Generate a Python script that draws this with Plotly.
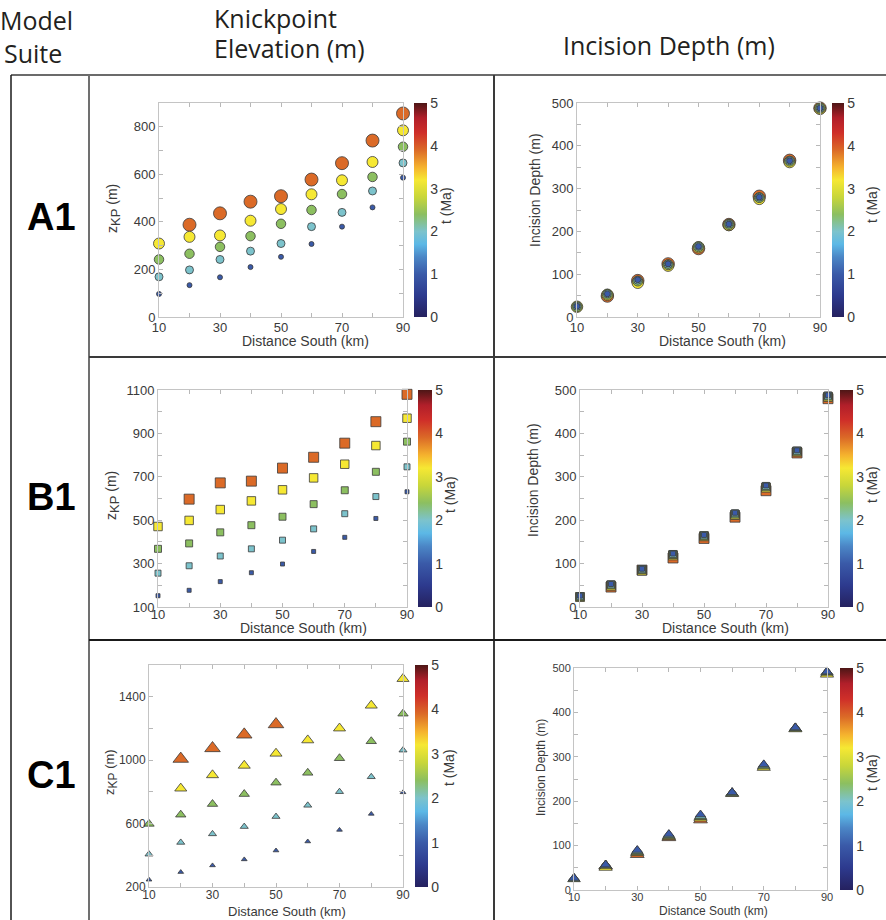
import plotly.graph_objects as go

W, H = 886, 920

# ---------------- data ----------------
dist = [10, 20, 30, 40, 50, 60, 70, 80, 90]          # Distance South (km)
dist_labelled = [10, 30, 50, 70, 90]
dist_minor = [20, 40, 60, 80]
t_series = [1.0, 2.0, 2.4, 3.2, 3.9]                  # t (Ma) of the five series

# A1 knickpoint elevation (m)
a1_z_t1 = [97, 134, 167, 210, 253, 307, 380, 461, 586]
a1_z_t2 = [169, 198, 242, 277, 309, 380, 440, 530, 648]
a1_z_t3 = [242, 266, 295, 340, 392, 450, 517, 589, 716]
a1_z_t4 = [309, 337, 343, 405, 454, 516, 575, 652, 785]
a1_z_t5 = [None, 388, 436, 485, 508, 578, 647, 742, 856]
# A1 incision depth (m)
a1_d_t1 = [25, 54, 87, 124, 165, 217, 280, 365, 488]
a1_d_t2 = [25, 54, 86, 123, 165, 217, 280, 365, 488]
a1_d_t3 = [24, 53, 84, 122, 164, 216, 279, 364, 488]
a1_d_t4 = [24, 52, 80, 120, 163, 215, 276, 362, 487]
a1_d_t5 = [None, 49, 85, 124, 160, 216, 282, 366, 488]

# B1 knickpoint elevation (m)
b1_z_t1 = [152, 177, 217, 258, 298, 356, 421, 508, 631]
b1_z_t2 = [256, 290, 335, 368, 408, 460, 530, 609, 746]
b1_z_t3 = [368, 393, 444, 477, 516, 574, 638, 723, 862]
b1_z_t4 = [471, 499, 549, 589, 640, 695, 758, 844, 970]
b1_z_t5 = [None, 597, 672, 680, 740, 790, 855, 954, 1080]
# B1 incision depth (m)
b1_d_t1 = [26, 53, 88, 123, 166, 217, 280, 361, 488]
b1_d_t2 = [25, 52, 87, 122, 165, 216, 279, 360, 487]
b1_d_t3 = [24, 51, 86, 121, 164, 214, 277, 359, 486]
b1_d_t4 = [23, 49, 84, 119, 163, 212, 275, 358, 484]
b1_d_t5 = [None, 46, 85, 113, 158, 207, 268, 355, 480]

# C1 knickpoint elevation (m)
c1_z_t1 = [246, 294, 336, 374, 430, 487, 560, 661, 797]
c1_z_t2 = [407, 481, 535, 581, 644, 715, 801, 895, 1063]
c1_z_t3 = [598, 656, 723, 786, 858, 920, 1012, 1119, 1293]
c1_z_t4 = [None, 822, 906, 966, 1042, 1126, 1201, 1345, 1513]
c1_z_t5 = [None, 1008, 1075, 1161, 1226, None, None, None, None]
# C1 incision depth (m)
c1_d_t1 = [27, 57, 90, 126, 170, 220, 283, 366, 492]
c1_d_t2 = [26, 56, 88, 124, 167, 219, 281, 365, 491]
c1_d_t3 = [25, 55, 86, 122, 165, 218, 279, 364, 490]
c1_d_t4 = [None, 51, 84, 120, 162, 217, 276, 363, 486]
c1_d_t5 = [None, 54, 80, 118, 158, None, None, None, None]

row_labels = ["A1", "B1", "C1"]
header_texts = ["Model", "Suite", "Knickpoint", "Elevation (m)", "Incision Depth (m)"]
depth_title = "Incision Depth (m)"
dist_title = "Distance South (km)"
cbar_title = "t (Ma)"

colorscale = [
    [0.00, "#25215f"], [0.10, "#2d3a8e"], [0.20, "#3a5aa8"], [0.28, "#4b86c6"],
    [0.34, "#5cb8e6"], [0.40, "#7cc3cc"], [0.48, "#8cbf60"], [0.56, "#c8d63a"],
    [0.64, "#f6e833"], [0.70, "#f5b22e"], [0.78, "#db6a27"], [0.86, "#cf2f29"],
    [0.93, "#b11f2a"], [1.00, "#4d1616"],
]

def px(x):
    return x / W

def py(y):
    return 1 - y / H

def zkp(fs):
    return f'z<sub><span style="font-size:{fs}px">KP</span></sub> (m)'

# panel geometry (pixels): plot box, colorbar box, title positions
panels = [
    dict(series=[a1_z_t1, a1_z_t2, a1_z_t3, a1_z_t4, a1_z_t5], sym="circle",
         sizes=[5, 8, 9.5, 11, 13], box=(159, 103, 403, 317), cbx=(414, 427), ct=(446, 205),
         yr=(0, 900), ystep=100, ylab=200, ytitle=zkp(13), yt=(113, 208), xt=(305, 341), fs=13, so=-2),
    dict(series=[a1_d_t1, a1_d_t2, a1_d_t3, a1_d_t4, a1_d_t5], sym="circle",
         sizes=[6, 8, 10, 11.5, 12.5], box=(577, 103, 820, 317), cbx=(832, 844), ct=(872, 205),
         yr=(0, 500), ystep=50, ylab=100, ytitle=depth_title, yt=(535, 190), xt=(722, 341), fs=13, so=-2),
    dict(series=[b1_z_t1, b1_z_t2, b1_z_t3, b1_z_t4, b1_z_t5], sym="square",
         sizes=[4, 6, 7, 8.5, 10], box=(158, 390, 407, 607), cbx=(418, 432), ct=(450, 495),
         yr=(100, 1100), ystep=100, ylab=200, ytitle=zkp(13), yt=(113, 495), xt=(303, 628), fs=13, so=-5),
    dict(series=[b1_d_t1, b1_d_t2, b1_d_t3, b1_d_t4, b1_d_t5], sym="square",
         sizes=[5, 7, 8, 9, 10], box=(580, 390, 828, 607), cbx=(840, 853), ct=(872, 485),
         yr=(0, 500), ystep=50, ylab=100, ytitle=depth_title, yt=(533, 480), xt=(725, 628), fs=13, so=-5),
    dict(series=[c1_z_t1, c1_z_t2, c1_z_t3, c1_z_t4, c1_z_t5], sym="triangle-up",
         sizes=[5, 7, 9, 10.5, 13.5], box=(149, 665, 403, 887), cbx=(415, 428), ct=(449, 768),
         yr=(200, 1600), ystep=200, ylab=400, ytitle=zkp(12), yt=(111, 772), xt=(287, 911), fs=12, so=-3),
    dict(series=[c1_d_t1, c1_d_t2, c1_d_t3, c1_d_t4, c1_d_t5], sym="triangle-up",
         sizes=[9, 10, 11, 11.5, 12], box=(574, 668, 827, 890), cbx=(840, 853), ct=(872, 773),
         yr=(0, 500), ystep=50, ylab=100, ytitle=depth_title, yt=(541, 768), xt=(713, 911), fs=11, so=-3),
]

fig = go.Figure()
annotations = []
FONT = "Liberation Sans, Arial, sans-serif"
TXT = "#3a3a3a"

for i, p in enumerate(panels, start=1):
    x0, y0, x1, y1 = p["box"]
    xa, ya = ("x" if i == 1 else f"x{i}"), ("y" if i == 1 else f"y{i}")
    # draw largest / latest series first so smaller ones sit on top
    for k in reversed(range(5)):
        vals = p["series"][k]
        marker = dict(symbol=p["sym"], size=p["sizes"][k], color=[t_series[k]] * len(vals),
                      colorscale=colorscale, cmin=0, cmax=5,
                      line=dict(color="#3a3a3a", width=0.8))
        if k == 4:
            cb0, cb1 = p["cbx"]
            marker["showscale"] = True
            marker["colorbar"] = dict(
                x=px(cb0), xanchor="left", xpad=0, ypad=0,
                y=py((y0 + y1) / 2), yanchor="middle",
                len=(y1 - y0) / H, lenmode="fraction",
                thickness=cb1 - cb0, thicknessmode="pixels",
                outlinewidth=0, ticks="", tickvals=[0, 1, 2, 3, 4, 5],
                tickfont=dict(family=FONT, size=14, color=TXT),
            )
        fig.add_trace(go.Scatter(x=dist, y=vals, mode="markers", marker=marker,
                                 xaxis=xa, yaxis=ya, cliponaxis=False, showlegend=False,
                                 hoverinfo="x+y"))
    lo, hi = p["yr"]
    major = list(range(lo, hi + 1, p["ylab"]))
    minor = [v for v in range(lo, hi + 1, p["ystep"]) if v not in major]
    f = dict(family=FONT, size=p["fs"], color=TXT)
    common = dict(showline=True, mirror="allticks", linecolor="#c4c4c4", linewidth=1,
                  ticks="inside", ticklen=4, tickcolor="#b8b8b8", tickwidth=1,
                  showgrid=False, zeroline=False, tickfont=f)
    minor_x = dict(tickmode="array", tickvals=dist_minor, ticks="inside", ticklen=4,
                   tickcolor="#b8b8b8", showgrid=False)
    minor_y = dict(tickmode="array", tickvals=minor, ticks="inside", ticklen=4,
                   tickcolor="#b8b8b8", showgrid=False)
    fig.layout[f"xaxis{'' if i == 1 else i}"] = dict(
        domain=[px(x0), px(x1)], anchor=ya, range=[10, 90], ticklabelstandoff=p["so"],
        tickmode="array", tickvals=dist_labelled, minor=minor_x, **common)
    fig.layout[f"yaxis{'' if i == 1 else i}"] = dict(
        domain=[py(y1), py(y0)], anchor=xa, range=[lo, hi],
        tickmode="array", tickvals=major, minor=minor_y, **common)
    tf = dict(family=FONT, size=p["fs"] + 1, color=TXT)
    annotations.append(dict(text=p["ytitle"], x=px(p["yt"][0]), y=py(p["yt"][1]), xref="paper", yref="paper",
                            showarrow=False, textangle=-90, font=tf, xanchor="center", yanchor="middle"))
    annotations.append(dict(text=dist_title, x=px(p["xt"][0]), y=py(p["xt"][1]), xref="paper", yref="paper",
                            showarrow=False, font=tf, xanchor="center", yanchor="middle"))
    annotations.append(dict(text=cbar_title, x=px(p["ct"][0]), y=py(p["ct"][1]), xref="paper", yref="paper",
                            showarrow=False, textangle=-90, xanchor="center", yanchor="middle",
                            font=dict(family=FONT, size=14, color=TXT)))

# headers
hfont = dict(family="Open Sans, sans-serif", size=25, color="#231f20")
header_pos = [(36, 20, "center"), (33, 53, "center"), (212, 18, "left"), (212, 48, "left"), (669, 45, "center")]
for txt, (hx, hy, anc) in zip(header_texts, header_pos):
    annotations.append(dict(text=txt, x=px(hx), y=py(hy), xref="paper", yref="paper", showarrow=False,
                            font=hfont, xanchor=anc, yanchor="middle"))
# row labels
for txt, ry in zip(row_labels, [217, 497, 775]):
    annotations.append(dict(text=f"<b>{txt}</b>", x=px(51), y=py(ry), xref="paper", yref="paper",
                            showarrow=False, xanchor="center", yanchor="middle",
                            font=dict(family=FONT, size=38, color="#000")))

# table frame lines
def line(xa0, ya0, xa1, ya1, color, width):
    return dict(type="line", xref="paper", yref="paper", x0=px(xa0), y0=py(ya0), x1=px(xa1), y1=py(ya1),
                line=dict(color=color, width=width), layer="below")

shapes = [
    line(11, 75, 886, 75, "#3a3a3a", 1.5),
    line(11, 75, 11, 920, "#1a1a1a", 1.5),
    line(89, 75, 89, 920, "#707070", 2),
    line(494, 75, 494, 920, "#3a3a3a", 2),
    line(89, 357, 886, 357, "#3a3a3a", 2),
    line(89, 640, 886, 640, "#1a1a1a", 2),
]

fig.update_layout(width=W, height=H, margin=dict(l=0, r=0, t=0, b=0, autoexpand=False),
                  paper_bgcolor="white", plot_bgcolor="white",
                  annotations=annotations, shapes=shapes, showlegend=False)

fig.write_html("out.html")
